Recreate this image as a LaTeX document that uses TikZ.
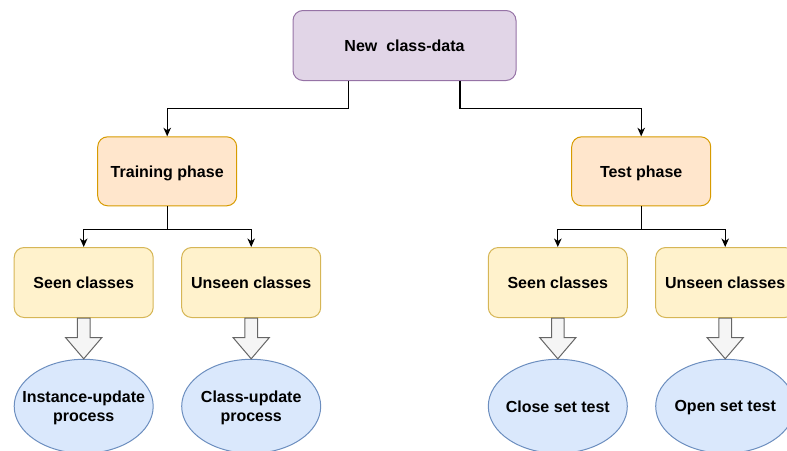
\documentclass[tikz,border=0pt]{standalone}
\usepackage{fontspec}
\setmainfont{Liberation Sans}
\usetikzlibrary{arrows.meta,shapes.geometric,calc}
\definecolor{purpleF}{HTML}{E1D5E7}\definecolor{purpleD}{HTML}{9673A6}
\definecolor{orangeF}{HTML}{FFE6CC}\definecolor{orangeD}{HTML}{D79B00}
\definecolor{yellowF}{HTML}{FFF2CC}\definecolor{yellowD}{HTML}{D6B656}
\definecolor{blueF}{HTML}{DAE8FC}\definecolor{blueD}{HTML}{6C8EBF}
\definecolor{greyF}{HTML}{F5F5F5}\definecolor{greyD}{HTML}{666666}
\tikzset{
  txt/.style={font=\fontsize{16}{18.5}\selectfont\bfseries, align=center, text=black, inner sep=0pt, text depth=0pt},
  topbox/.style={txt, draw=purpleD, fill=purpleF, line width=1pt, rounded corners=10pt, minimum width=223pt, minimum height=70pt},
  phasebox/.style={txt, draw=orangeD, fill=orangeF, line width=1pt, rounded corners=10pt, minimum width=139pt, minimum height=69pt},
  classbox/.style={txt, draw=yellowD, fill=yellowF, line width=1pt, rounded corners=10pt, minimum width=139pt, minimum height=70pt},
  procell/.style={ellipse, draw=blueD, fill=blueF, line width=1pt, inner sep=0pt, minimum width=139pt, minimum height=94pt,
    label={[txt]center:#1}},
  conn/.style={draw=black, line width=1.2pt, -{Stealth[length=8.5pt,width=7.5pt,inset=2.5pt]}},
  blockarr/.style={draw=greyD, fill=greyF, line width=1pt, line join=miter}
}
\newcommand{\blockarrow}[2]{%
  \path[blockarr] ($(#1.south)+(-6.3,0)$) -- ($(#1.south)+(6.3,0)$) -- ($(#1.south)+(6.3,19.5)$)
    -- ($(#1.south)+(18.2,19.5)$) -- (#2.north) -- ($(#1.south)+(-18.2,19.5)$)
    -- ($(#1.south)+(-6.3,19.5)$) -- cycle;}
\begin{document}
\begin{tikzpicture}[x=1pt,y=-1pt]
\useasboundingbox (0,0) rectangle (787,450);
\node[topbox] (top) at (404.5,45.5) {New\ \ class-data};
\node[phasebox] (train) at (167.2,171.3) {Training phase};
\node[phasebox] (test) at (641.2,171.3) {Test phase};
\node[classbox] (s1) at (83.7,282.5) {Seen classes};
\node[classbox] (u1) at (251.2,282.5) {Unseen classes};
\node[classbox] (s2) at (557.8,282.5) {Seen classes};
\node[classbox] (u2) at (725.2,282.5) {Unseen classes};
\node[procell={Instance-update\\process}] (e1) at (83.7,406.3) {};
\node[procell={Class-update\\process}] (e2) at (251.2,406.3) {};
\node[procell={Close set test}] (e3) at (557.8,406.3) {};
\node[procell={Open set test}] (e4) at (725.2,406.3) {};
\draw[conn] ($(top.south)+(-55.8,0)$) -- ++(0,27.8) -| (train.north);
\draw[conn] ($(top.south)+(55.5,0)$) -- ++(0,27.8) -| (test.north);
\draw[conn] (train.south) -- ++(0,23) -| (s1.north);
\draw[conn] (train.south) -- ++(0,23) -| (u1.north);
\draw[conn] (test.south) -- ++(0,23) -| (s2.north);
\draw[conn] (test.south) -- ++(0,23) -| (u2.north);
\blockarrow{s1}{e1}
\blockarrow{u1}{e2}
\blockarrow{s2}{e3}
\blockarrow{u2}{e4}
\end{tikzpicture}
\end{document}
